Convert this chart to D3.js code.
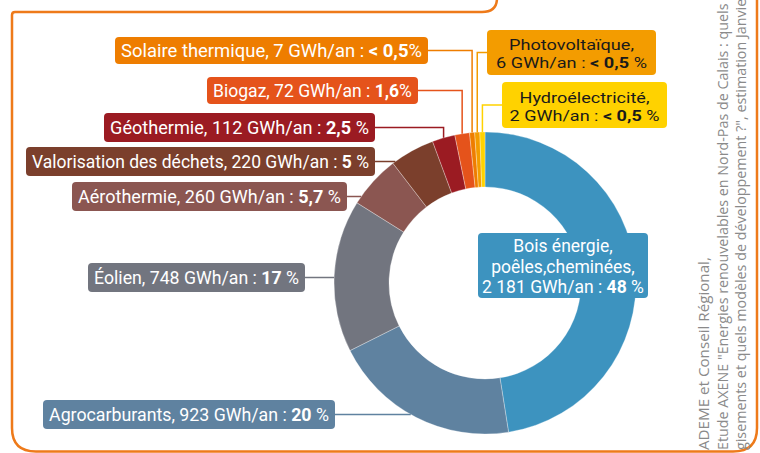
<!DOCTYPE html>
<html lang="fr">
<head>
<meta charset="utf-8">
<script src="https://cdn.jsdelivr.net/npm/d3@7"></script>
<style>
  html, body { margin: 0; padding: 0; background: #fff; }
  svg { display: block; }
</style>
</head>
<body>
<svg id="chart" width="760" height="453"></svg>
<script>
// *************** DATA ***************
const categories = ["Bois énergie", "Agrocarburants", "Éolien", "Aérothermie", "Valorisation des déchets",
                    "Géothermie", "Biogaz", "Solaire thermique", "Photovoltaïque", "Hydroélectricité"];
const production = [2181, 923, 748, 260, 220, 112, 72, 7, 6, 2];          // GWh/an
const shareLabels = ["48", "20", "17", "5,7", "5", "2,5", "1,6", "< 0,5", "< 0,5", "< 0,5"];
const sourceLines = [
  "ADEME et Conseil Régional,",
  "Etude AXENE \"Energies renouvelables en Nord-Pas de Calais : quels",
  "gisements et quels modèles de développement ?\", estimation Janvier"
];

// *************** CONSTANTS ***************
const width = 760, height = 453;
const cx = 485, cy = 283,
      outerR = 151, innerR = 96;
const minSlice = 25;   // very small sources keep a visible wedge, like the original drawing

const colors = ["#3d93bf", "#5f82a0", "#72757f", "#8b5651", "#7b3f2c",
                "#9b1b22", "#e5531b", "#ee7d00", "#f39c00", "#ffd200"];
const frameColor = "#ee7a1a";

// label boxes, in the same order as the categories (tw = width of the widest text line)
const labelLayout = [
  {x: 478, y: 233, w: 170, h: 65, head: ["Bois énergie,", "poêles,cheminées,"], base: 19, lh: 20.5, fs: 17.5, tw: 162, pct: " ", leader: "none"},
  {x: 43,  y: 400, w: 292, h: 29, head: [], pct: " ", leader: "h"},
  {x: 88,  y: 263, w: 217, h: 29, head: [], pct: " ", leader: "h"},
  {x: 72,  y: 182, w: 275, h: 29, head: [], pct: " ", leader: "h"},
  {x: 26,  y: 147, w: 349, h: 29, head: [], pct: " ", leader: "h"},
  {x: 104, y: 113, w: 271, h: 29, head: [], pct: " ", leader: "hv"},
  {x: 207, y: 77,  w: 211, h: 27, head: [], pct: "",  leader: "hv"},
  {x: 115, y: 37,  w: 313, h: 27, head: [], pct: "",  leader: "hv"},
  {x: 487, y: 30,  w: 169, h: 45, head: ["Photovoltaïque,"], base: 19.5, lh: 18, fs: 15.5, tw: 151, pct: " ", leader: "hv-left", dark: true},
  {x: 502, y: 82,  w: 165, h: 46, head: ["Hydroélectricité,"], base: 20.5, lh: 18, fs: 15.5, tw: 150, pct: " ", leader: "hv-left", dark: true}
];

const svg = d3.select("#chart");
const fr = d3.formatLocale({decimal: ",", thousands: " ", grouping: [3], currency: ["", " €"]});
const fmt = fr.format(",");

const data = categories.map((c, i) => ({
  name: c, gwh: production[i], share: shareLabels[i], color: colors[i], layout: labelLayout[i]
}));

// *************** FRAME ***************
svg.append("path")
   .attr("d", "M497,-2 C497,7 492,12 482,12 L15,12 Q12,12 12,15 L12,428 Q12,451.5 36,451.5 L733,451.5 Q757,451.5 757,428 L757,-2")
   .attr("fill", "none")
   .attr("stroke", frameColor)
   .attr("stroke-width", 2.5);

// *************** DONUT ***************
const pie = d3.pie()
              .sort(null)
              .value(d => Math.max(d.gwh, minSlice));

const arc = d3.arc()
              .innerRadius(innerR)
              .outerRadius(outerR);

const arcs = pie(data);

const g = svg.append("g").attr("transform", `translate(${cx},${cy})`);

g.selectAll("path")
 .data(arcs)
 .join("path")
 .attr("d", arc)
 .attr("fill", d => d.data.color)
 .attr("stroke", "#ffffff")
 .attr("stroke-opacity", 0.5)
 .attr("stroke-width", 0.6);

// *************** LEADERS ***************
const ringX = y => cx - Math.sqrt(outerR * outerR - (y - cy) * (y - cy));

function leaderPoints(a) {
  const L = a.data.layout;
  const mid = (a.startAngle + a.endAngle) / 2;
  const sx = cx + outerR * Math.sin(mid),
        sy = cy - outerR * Math.cos(mid);
  const ly = L.y + L.h / 2;
  if (L.leader === "h") return [[L.x + L.w, ly], [ringX(ly), ly]];
  if (L.leader === "hv") return [[L.x + L.w, ly], [sx, ly], [sx, sy]];
  if (L.leader === "hv-left") return [[L.x, ly], [sx, ly], [sx, sy]];
  return null;
}

svg.append("g")
   .selectAll("path")
   .data(arcs.filter(a => a.data.layout.leader !== "none"))
   .join("path")
   .attr("d", a => d3.line()(leaderPoints(a)))
   .attr("fill", "none")
   .attr("stroke", a => a.data.color)
   .attr("stroke-width", 1.5);

// *************** LABELS ***************
const labelG = svg.append("g")
                  .style("font-family", "Roboto, 'Noto Sans', sans-serif");

data.forEach(d => {
  const L = d.layout;
  const box = labelG.append("g").style("font-size", (L.fs || 18) + "px");

  box.append("rect")
     .attr("x", L.x).attr("y", L.y)
     .attr("width", L.w).attr("height", L.h)
     .attr("rx", 4)
     .attr("fill", d.color);

  const valueHead = (L.head.length ? "" : `${d.name}, `) + `${fmt(d.gwh)} GWh/an : `;
  const nLines = L.head.length + 1;
  const base = nLines === 1 ? L.h / 2 + 6.5 : L.base;
  const lh = L.lh || 0;
  const ink = L.dark ? "#1a1a1a" : "#ffffff";

  const lineGroups = [];
  for (let i = 0; i < nLines; i++) {
    const lg = box.append("g");
    const t = lg.append("text")
                .attr("text-anchor", "middle")
                .attr("fill", ink);
    if (i < L.head.length) {
      t.text(L.head[i]);
    } else {
      t.append("tspan").text(valueHead);
      t.append("tspan").attr("font-weight", "bold").text(d.share);
      t.append("tspan").text(L.pct + "%");
    }
    lineGroups.push({lg, t, y: L.y + base + i * lh});
  }

  // squeeze the text horizontally to the box, like the condensed original font
  const widest = d3.max(lineGroups, o => o.t.node().getComputedTextLength());
  const k = (L.tw || L.w - 12) / widest;
  lineGroups.forEach(o => o.lg.attr("transform", `translate(${L.x + L.w / 2},${o.y}) scale(${k},1)`));
});

// *************** SOURCE ***************
const srcG = svg.append("g")
                .style("font-family", "'Open Sans', 'Noto Sans', sans-serif")
                .style("font-size", "14px")
                .attr("fill", "#8a8a8a");

const srcX = [709, 727.5, 746];
const srcLen = [193, 447, null];   // visible run of the first two lines in the original
const srcTexts = sourceLines.map((s, i) => {
  const lg = srcG.append("g");
  const t = lg.append("text").text(s);
  return {lg, t, x: srcX[i]};
});
const k1 = srcLen[0] / srcTexts[0].t.node().getComputedTextLength(),
      k2 = srcLen[1] / srcTexts[1].t.node().getComputedTextLength();
srcTexts.forEach((o, i) => o.lg.attr("transform", `translate(${o.x},450) rotate(-90) scale(${i === 0 ? k1 : k2},1)`));
</script>
</body>
</html>
